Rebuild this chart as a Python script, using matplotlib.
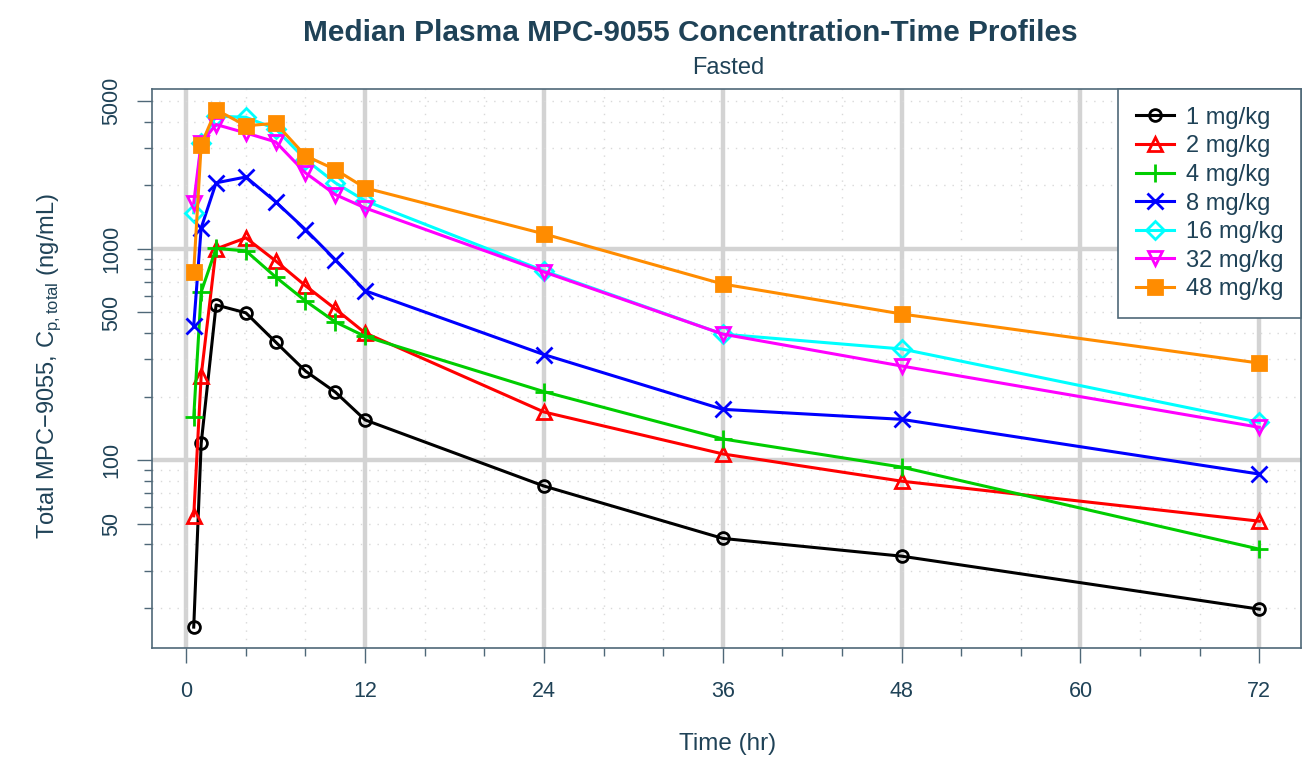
import matplotlib
matplotlib.use("Agg")
import matplotlib.pyplot as plt
from matplotlib.ticker import FixedLocator, NullFormatter, FixedFormatter

plt.rcParams['font.family'] = ['Liberation Sans', 'DejaVu Sans']

times = [0.5, 1, 2, 4, 6, 8, 10, 12, 24, 36, 48, 72]
dose_labels = ["1 mg/kg", "2 mg/kg", "4 mg/kg", "8 mg/kg", "16 mg/kg", "32 mg/kg", "48 mg/kg"]
conc_1 = [16.2, 120, 543, 498, 362, 264, 210, 155, 75.4, 42.6, 35.1, 19.7]
conc_2 = [54.5, 251, 1000, 1128, 877, 669, 520, 400, 169, 107, 79.5, 51.4]
conc_4 = [160, 625, 1005, 979, 736, 567, 451, 385, 211, 126, 92.7, 37.9]
conc_8 = [433, 1257, 2055, 2190, 1670, 1234, 889, 634, 316, 174, 156, 85.9]
conc_16 = [1482, 3180, 4250, 4200, 3700, 2650, 2055, 1690, 787, 395, 336, 151]
conc_32 = [1653, 3180, 3880, 3540, 3210, 2290, 1808, 1563, 778, 395, 279, 143]
conc_48 = [778, 3110, 4560, 3830, 3930, 2760, 2375, 1944, 1178, 682, 492, 288]

series = [conc_1, conc_2, conc_4, conc_8, conc_16, conc_32, conc_48]
colors = ["black", "#FF0000", "#00CD00", "#0000FF", "#00FFFF", "#FF00FF", "#FF8C00"]
markers = ["o", "^", "+", "x", "D", "v", "s"]
msizes = [8.5, 10.5, 13, 11, 9, 10.5, 9.5]

text_col = "#1f4257"
spine_col = "#4f6878"

fig = plt.figure(figsize=(13.03, 7.65), dpi=100)
ax = fig.add_axes([152/1303, 1-648/765, (1301-152)/1303, (648-89)/765])

ax.set_yscale("log")
ax.set_xlim(-2.3, 74.8)
ax.set_ylim(12.9, 5715)

# grid
for xv in range(0, 73, 4):
    if xv % 12 == 0:
        ax.axvline(xv, color="#d3d3d3", lw=3.2, zorder=0)
    else:
        ax.axvline(xv, color="#d9d9d9", lw=1.0, ls=(0, (1, 5)), zorder=0)
minor_y = [20, 30, 40, 50, 60, 70, 80, 90, 200, 300, 400, 500, 600, 700, 800, 900,
           2000, 3000, 4000, 5000]
for yv in minor_y:
    ax.axhline(yv, color="#d9d9d9", lw=1.0, ls=(0, (1, 5)), zorder=0)
for yv in [100, 1000]:
    ax.axhline(yv, color="#d3d3d3", lw=3.2, zorder=0)

for vals, c, m, ms, lab in zip(series, colors, markers, msizes, dose_labels):
    filled = m in ["+", "x", "s"]
    ax.plot(times, vals, color=c, lw=2.2, marker=m, markersize=ms,
            markerfacecolor=(c if filled else "none"), markeredgecolor=c,
            markeredgewidth=2.0, label=lab, zorder=3)

# ticks
ax.xaxis.set_major_locator(FixedLocator([0, 12, 24, 36, 48, 60, 72]))
ax.xaxis.set_minor_locator(FixedLocator([x for x in range(0, 73, 4) if x % 12]))
ax.yaxis.set_major_locator(FixedLocator([50, 100, 500, 1000, 5000]))
ax.yaxis.set_major_formatter(FixedFormatter(["50", "100", "500", "1000", "5000"]))
ax.yaxis.set_minor_locator(FixedLocator([20, 30, 40, 60, 70, 80, 90, 200, 300, 400,
                                         600, 700, 800, 900, 2000, 3000, 4000]))
ax.yaxis.set_minor_formatter(NullFormatter())
ax.tick_params(axis="both", which="major", length=10.5, width=1.0, color=spine_col,
               labelcolor=text_col, labelsize=15.5)
ax.tick_params(axis="both", which="minor", length=5.5, width=1.0, color=spine_col)
ax.tick_params(axis="x", which="major", pad=13)
ax.tick_params(axis="y", which="major", pad=11)
for lbl in ax.get_yticklabels():
    lbl.set_rotation(90)
    lbl.set_va("center")

for s in ax.spines.values():
    s.set_color(spine_col)
    s.set_linewidth(1.2)

ax.set_xlabel("Time (hr)", fontsize=17.5, color=text_col)
ax.xaxis.set_label_coords(0.5 + (728 - 726.5) / 1149, -(733 - 648) / 559)
ax.set_ylabel("Total MPC\u22129055, C$_\\mathregular{p,total}$ (ng/mL)", fontsize=17,
              color=text_col)
ax.yaxis.set_label_coords(-(152 - 63) / 1149, (648 - 366) / 559)

fig.text(690/1303, 1-33/765, "Median Plasma MPC-9055 Concentration-Time Profiles",
         ha="center", va="center", fontsize=21.5, fontweight="bold", color=text_col)
fig.text(728/1303, 1-68/765, "Fasted", ha="center", va="center", fontsize=17,
         color=text_col)

leg = ax.legend(loc="upper right", fontsize=17, frameon=True, fancybox=False,
                borderaxespad=0, handlelength=1.6, labelspacing=0.28,
                borderpad=0.75, handletextpad=0.5, labelcolor=text_col)
leg.get_frame().set_edgecolor(spine_col)
leg.get_frame().set_linewidth(1.2)
leg.get_frame().set_alpha(1)

fig.savefig("out.png", dpi=100)
